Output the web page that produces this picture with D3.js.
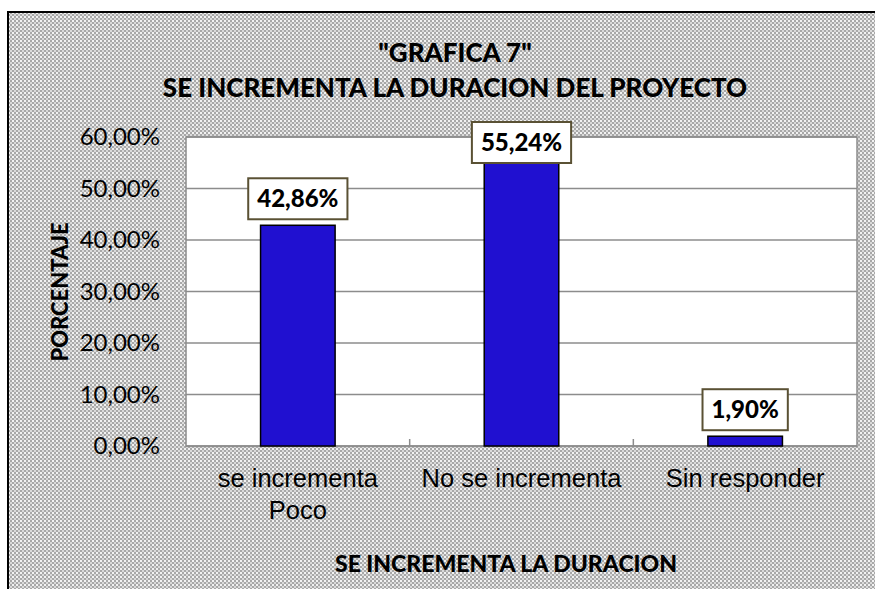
<!DOCTYPE html>
<html>
<head>
<meta charset="utf-8">
<script src="https://cdn.jsdelivr.net/npm/d3@7"></script>
<style>
  body { margin: 0; background: #fff; }
</style>
</head>
<body>
<div id="chart"></div>
<script>
// data
var categories = [["se incrementa", "Poco"], ["No se incrementa"], ["Sin responder"]];
var values = [42.86, 55.24, 1.90];
var valueLabels = ["42,86%", "55,24%", "1,90%"];
var yTicks = [0, 10, 20, 30, 40, 50, 60];
var yTickLabels = ["0,00%", "10,00%", "20,00%", "30,00%", "40,00%", "50,00%", "60,00%"];
var titleLines = ["\"GRAFICA 7\"", "SE INCREMENTA LA DURACION DEL PROYECTO"];
var xTitle = "SE INCREMENTA LA DURACION";
var yTitle = "PORCENTAJE";

function init() {
    var W = 875, H = 589;
    //plot area
    var left = 186, right = 857, top = 137, bottom = 446;
    var calibri = "Lato, 'Noto Sans', sans-serif";
    var arial = "'Liberation Sans', Arial, sans-serif";

    var svg = d3.select("#chart")
        .append("svg")
        .attr("width", W)
        .attr("height", H);

    //checkered background
    var pat = svg.append("defs").append("pattern")
        .attr("id", "checker")
        .attr("width", 4).attr("height", 4)
        .attr("patternUnits", "userSpaceOnUse");
    pat.append("rect").attr("width", 4).attr("height", 4).attr("fill", "#a8a8a8");
    pat.append("rect").attr("x", 0).attr("y", 0).attr("width", 2).attr("height", 2).attr("fill", "#f2f2f2");
    pat.append("rect").attr("x", 2).attr("y", 2).attr("width", 2).attr("height", 2).attr("fill", "#dadada");

    svg.append("rect")
        .attr("x", 8).attr("y", 12)
        .attr("width", W - 8).attr("height", H - 12)
        .attr("fill", "url(#checker)");
    svg.append("path")
        .attr("d", "M8," + H + "V12H" + W)
        .attr("fill", "none")
        .attr("stroke", "#000")
        .attr("stroke-width", 2);

    //scales
    var xScale = d3.scaleBand()
        .domain(d3.range(categories.length))
        .range([left, right])
        .paddingInner(2 / 3)
        .paddingOuter(1 / 3);
    var step = xScale.step();

    var yScale = d3.scaleLinear()
        .domain([0, 60])
        .range([bottom, top]);

    //plot area
    svg.append("rect")
        .attr("x", left).attr("y", top)
        .attr("width", right - left).attr("height", bottom - top)
        .attr("fill", "#fff");

    //gridlines
    svg.append("g")
        .selectAll("line")
        .data(yTicks)
        .enter()
        .append("line")
        .attr("x1", left).attr("x2", right)
        .attr("y1", function(d) { return yScale(d); })
        .attr("y2", function(d) { return yScale(d); })
        .attr("stroke", "#8c8c8c")
        .attr("stroke-width", 1.5);

    //plot border
    svg.append("rect")
        .attr("x", left).attr("y", top)
        .attr("width", right - left).attr("height", bottom - top)
        .attr("fill", "none")
        .attr("stroke", "#8c8c8c")
        .attr("stroke-width", 1.5);

    //category tick marks (between categories)
    svg.append("g")
        .selectAll("line")
        .data(d3.range(1, categories.length))
        .enter()
        .append("line")
        .attr("x1", function(d) { return xScale(d) - step / 3; })
        .attr("x2", function(d) { return xScale(d) - step / 3; })
        .attr("y1", bottom)
        .attr("y2", bottom - 7)
        .attr("stroke", "#8c8c8c")
        .attr("stroke-width", 1.5);

    //y axis labels
    var yAxis = d3.axisLeft(yScale)
        .tickValues(yTicks)
        .tickSize(0)
        .tickPadding(26)
        .tickFormat(function(d, i) { return yTickLabels[i]; });
    var gy = svg.append("g")
        .attr("transform", "translate(" + left + ",0)")
        .call(yAxis);
    gy.select(".domain").remove();
    gy.selectAll("text")
        .style("font-family", calibri)
        .style("font-size", "24px")
        .attr("fill", "#000");

    //bars
    svg.append("g")
        .selectAll("rect")
        .data(values)
        .enter()
        .append("rect")
        .attr("x", function(d, i) { return xScale(i); })
        .attr("y", function(d) { return yScale(d); })
        .attr("width", xScale.bandwidth())
        .attr("height", function(d) { return bottom - yScale(d); })
        .attr("fill", "#2010d0")
        .attr("stroke", "#000")
        .attr("stroke-width", 1.5);

    //data labels in boxes
    var lbl = svg.append("g")
        .selectAll("g")
        .data(values)
        .enter()
        .append("g");
    lbl.each(function(d, i) {
        var g = d3.select(this);
        var cx = xScale(i) + xScale.bandwidth() / 2;
        var boxH = 41;
        var by = Math.max(yScale(d) - 6 - boxH, 122);
        var rect = g.append("rect");
        var t = g.append("text")
            .attr("x", cx)
            .attr("y", by + boxH / 2)
            .attr("dy", "0.36em")
            .attr("text-anchor", "middle")
            .style("font-family", calibri)
            .style("font-weight", "900")
            .style("font-size", "24px")
            .text(valueLabels[i]);
        var tw = t.node().getComputedTextLength();
        rect.attr("x", cx - tw / 2 - 9)
            .attr("y", by)
            .attr("width", tw + 18)
            .attr("height", boxH)
            .attr("fill", "#fff")
            .attr("stroke", "#5a5134")
            .attr("stroke-width", 2);
    });

    //category labels
    svg.append("g")
        .selectAll("text")
        .data(categories)
        .enter()
        .append("text")
        .attr("text-anchor", "middle")
        .style("font-family", arial)
        .style("font-size", "25.5px")
        .attr("fill", "#000")
        .each(function(d, i) {
            var cx = xScale(i) + xScale.bandwidth() / 2;
            d3.select(this).selectAll("tspan")
                .data(d)
                .enter()
                .append("tspan")
                .attr("x", cx)
                .attr("y", function(s, j) { return 487 + j * 31.5; })
                .text(function(s) { return s; });
        });

    //title
    svg.append("g")
        .selectAll("text")
        .data(titleLines)
        .enter()
        .append("text")
        .attr("x", 455)
        .attr("y", function(d, i) { return 62 + i * 35; })
        .attr("text-anchor", "middle")
        .style("font-family", calibri)
        .style("font-weight", "900")
        .style("font-size", "26px")
        .text(function(d) { return d; });

    //x-axis title
    svg.append("text")
        .attr("x", 506)
        .attr("y", 572)
        .attr("text-anchor", "middle")
        .style("font-family", calibri)
        .style("font-weight", "900")
        .style("font-size", "23px")
        .text(xTitle);

    //y-axis title
    svg.append("text")
        .attr("text-anchor", "middle")
        .attr("transform", "translate(68,292)rotate(-90)")
        .style("font-family", calibri)
        .style("font-weight", "900")
        .style("font-size", "22px")
        .text(yTitle);
}
window.onload = init;
</script>
</body>
</html>
